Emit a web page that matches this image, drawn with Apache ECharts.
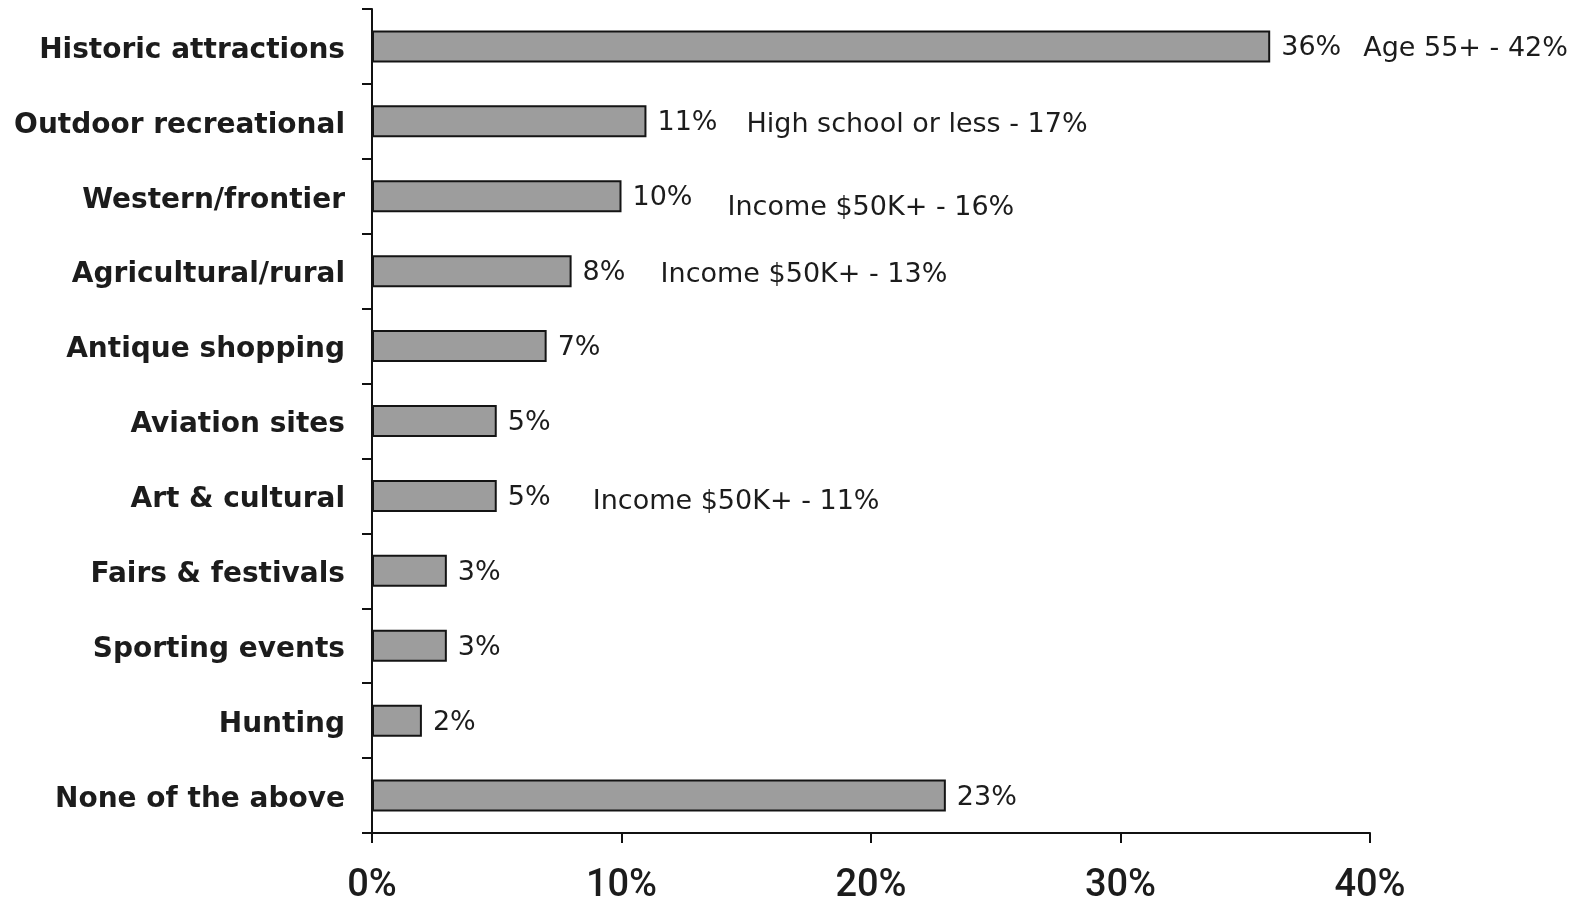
<!DOCTYPE html>
<html>
<head>
<meta charset="utf-8">
<script src="https://cdn.jsdelivr.net/npm/echarts@6/dist/echarts.min.js"></script>
<style>
  html, body { margin: 0; padding: 0; background: #ffffff; }
  #chart { width: 1574px; height: 898px; }
</style>
</head>
<body>
<div id="chart"></div>
<script>
// Share of respondents interested in each attraction type (%)
const categories = [
  'Historic attractions', 'Outdoor recreational', 'Western/frontier',
  'Agricultural/rural', 'Antique shopping', 'Aviation sites',
  'Art & cultural', 'Fairs & festivals', 'Sporting events',
  'Hunting', 'None of the above'
];
const shares = [36, 11, 10, 8, 7, 5, 5, 3, 3, 2, 23];

// Highest-scoring subgroup per attraction, where one stands out
const subgroupNotes = [
  'Age 55+ - 42%', 'High school or less - 17%', 'Income $50K+ - 16%',
  'Income $50K+ - 13%', '', '', 'Income $50K+ - 11%', '', '', '', ''
];

const xTickValues = [0, 10, 20, 30, 40];

// Pixel shift of each note from the end of its bar [dx, dy]
const noteShift = [[93, 3], [100, 4], [106, 12], [89, 4], null, null, [96, 6], null, null, null, null];

const ink = '#1c1c1c';
const valueFont = '"DejaVu Sans", "Liberation Sans", Arial, sans-serif';

const noteData = [];
subgroupNotes.forEach(function (txt, i) {
  if (!txt) return;
  noteData.push({
    value: [shares[i], categories[i]],
    label: { offset: [noteShift[i][0], noteShift[i][1]] },
    note: txt
  });
});

const chart = echarts.init(document.getElementById('chart'), null, { renderer: 'canvas' });
chart.setOption({
  backgroundColor: '#ffffff',
  animation: false,
  grid: {
    left: 372, right: 204, top: 9, bottom: 65,
    containLabel: false,
    outerBoundsMode: 'none'
  },
  xAxis: {
    type: 'value',
    min: xTickValues[0],
    max: xTickValues[xTickValues.length - 1],
    interval: 10,
    axisLine: { show: true, lineStyle: { color: '#111', width: 2 } },
    axisTick: { show: true, length: 10, lineStyle: { color: '#111', width: 2 } },
    splitLine: { show: false },
    axisLabel: {
      margin: 34,
      formatter: '{value}%',
      color: ink,
      fontSize: 38,
      fontWeight: 500,
      fontFamily: 'Roboto, "Liberation Sans", Arial, sans-serif'
    }
  },
  yAxis: {
    type: 'category',
    inverse: true,
    data: categories,
    axisLine: { show: true, lineStyle: { color: '#111', width: 2 } },
    axisTick: { show: true, length: 10, alignWithLabel: false, lineStyle: { color: '#111', width: 2 } },
    axisLabel: {
      margin: 27,
      verticalAlign: 'top',
      lineHeight: 8,
      color: ink,
      fontSize: 28,
      fontWeight: 'bold',
      fontFamily: valueFont
    }
  },
  series: [
    {
      type: 'bar',
      data: shares,
      barWidth: 32,
      itemStyle: { color: '#9d9d9d', borderColor: '#141414', borderWidth: 2 },
      label: {
        show: true,
        position: 'right',
        distance: 11,
        offset: [0, 2],
        formatter: '{c}%',
        color: ink,
        fontSize: 27,
        fontFamily: valueFont
      }
    },
    {
      type: 'scatter',
      data: noteData,
      symbolSize: 0,
      silent: true,
      itemStyle: { opacity: 1 },
      label: {
        show: true,
        position: 'right',
        distance: 0,
        color: ink,
        opacity: 1,
        fontSize: 27,
        fontFamily: valueFont,
        formatter: function (p) { return p.data.note; }
      }
    }
  ]
});
</script>
</body>
</html>
